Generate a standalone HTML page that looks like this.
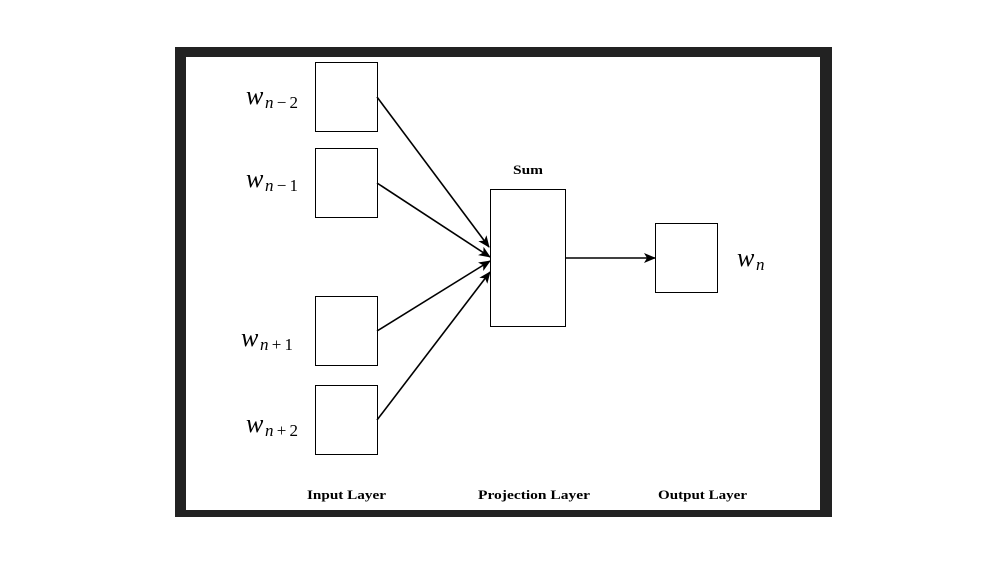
<!DOCTYPE html>
<html><head><style>
html,body{margin:0;padding:0;background:#fff;}
svg{display:block;}
</style></head><body>
<svg width="1006" height="564" xmlns="http://www.w3.org/2000/svg">
<defs>
<marker id="a" markerWidth="12" markerHeight="10" refX="11" refY="5" orient="auto" markerUnits="userSpaceOnUse">
<path d="M0,0 L12,5 L0,10 L3,5 z" fill="#000"/>
</marker>
</defs>
<rect x="0" y="0" width="1006" height="564" fill="#fff"/>
<rect x="175" y="47" width="657" height="470" fill="#222"/>
<rect x="186" y="57" width="634" height="453" fill="#fff"/>
<g fill="#fff" stroke="#000" stroke-width="1">
<rect x="315.5" y="62.5" width="62" height="69"/>
<rect x="315.5" y="148.5" width="62" height="69"/>
<rect x="315.5" y="296.5" width="62" height="69"/>
<rect x="315.5" y="385.5" width="62" height="69"/>
<rect x="490.5" y="189.5" width="75" height="137"/>
<rect x="655.5" y="223.5" width="62" height="69"/>
</g>
<g stroke="#000" stroke-width="1.6" fill="none" marker-end="url(#a)">
<line x1="377" y1="97" x2="489" y2="247"/>
<line x1="377" y1="183" x2="490" y2="257"/>
<line x1="377" y1="331" x2="490" y2="261"/>
<line x1="377" y1="420" x2="490" y2="272"/>
<line x1="565" y1="258" x2="655" y2="258"/>
</g>
<g font-family="Liberation Serif, serif" fill="#000">
<text x="246" y="104" font-size="26" font-style="italic">w</text><text x="265" y="108" font-size="17" textLength="33"><tspan font-style="italic">n</tspan>−2</text>
<text x="246" y="187" font-size="26" font-style="italic">w</text><text x="265" y="191" font-size="17" textLength="33"><tspan font-style="italic">n</tspan>−1</text>
<text x="241" y="346" font-size="26" font-style="italic">w</text><text x="260" y="350" font-size="17" textLength="33"><tspan font-style="italic">n</tspan>+1</text>
<text x="246" y="432" font-size="26" font-style="italic">w</text><text x="265" y="436" font-size="17" textLength="33"><tspan font-style="italic">n</tspan>+2</text>
<text x="737" y="266" font-size="26" font-style="italic">w</text><text x="756" y="270" font-size="17" font-style="italic">n</text>
</g>
<g font-family="Liberation Serif, serif" font-weight="bold" font-size="13" fill="#000" lengthAdjust="spacingAndGlyphs">
<text x="513" y="174" textLength="30" lengthAdjust="spacingAndGlyphs">Sum</text>
<text x="307" y="499" textLength="79" lengthAdjust="spacingAndGlyphs">Input Layer</text>
<text x="478" y="499" textLength="112" lengthAdjust="spacingAndGlyphs">Projection Layer</text>
<text x="658" y="499" textLength="89" lengthAdjust="spacingAndGlyphs">Output Layer</text>
</g>
</svg>
</body></html>
